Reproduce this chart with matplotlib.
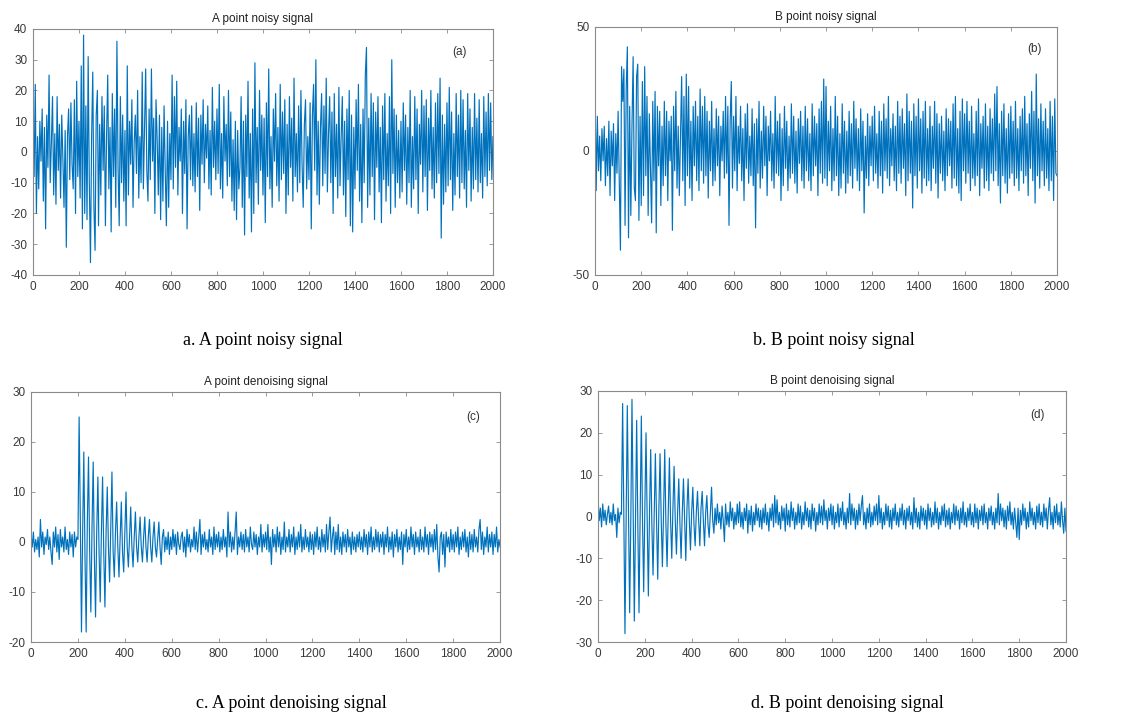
import numpy as np
import matplotlib
matplotlib.use("Agg")
import matplotlib.pyplot as plt

# sample step of the values below (every 5th sample of 0..2000)
step = 5

a_noisy = [
    15, -8, 22, -20, 5, -12, 10, -3, 14, -16, 8, -25, 12, -5, 25, -10, 3, 18, -14, 6,
    -17, 18, -6, 9, -15, 12, -2, -18, 7, -31, 5, 14, -9, 16, -4, -12, 17, -20, 23, -8,
    10, -15, 28, -25, 38, -20, 15, -22, 31, -10, -36, 5, 26, -18, -32, 12, 20, -24, 9, -14,
    18, -6, 15, -24, 5, 25, -12, 8, -26, 19, -8, 14, -18, 36, -5, -24, 18, -10, 12, -16,
    7, -24, 28, -14, 10, -4, 17, -18, 3, 12, -7, 20, -15, 5, -10, 26, -12, 8, 27, -6,
    -16, 14, -9, 27, -3, 11, -20, 17, 4, -14, 12, -22, 8, -16, 15, -6, -24, 10, -18, 6,
    -9, 25, -12, 18, -5, 23, -14, 8, -3, 14, -20, 10, -7, 17, -25, 5, 12, -9, 15, -11,
    6, -13, 16, -8, 11, -19, 12, -4, 17, -10, 9, -2, 15, -12, 7, -14, 21, -5, 10, -9,
    14, -7, 22, -12, 6, -15, 18, -3, 9, -11, 20, -8, 13, -16, 4, -19, 10, -22, 7, -12,
    -5, 18, -18, 10, -27, 12, -8, 23, -15, 6, -26, 14, -20, 29, -10, 8, -17, 20, -6, 12,
    -14, 11, -23, 16, -8, 27, -12, 5, -18, 14, -3, 19, -11, 8, -16, 22, -9, 13, -7, 17,
    -20, 9, -14, 18, -5, 11, -16, 24, -8, 6, -13, 15, -10, 20, -4, -18, 9, 17, -12, 5,
    -9, 16, -25, 12, 22, -6, 30, -14, 10, -17, 8, 19, -11, 15, -7, 24, -13, 6, 18, -10,
    13, -20, 19, -8, 9, -15, 21, -11, 5, 18, -14, 10, -21, 14, -9, 20, -24, 12, -26, 8,
    -12, 17, -6, 22, -16, 9, -23, 14, -10, 25, 34, -18, 11, -14, 19, -8, 16, -22, 13, -5,
    18, -13, 8, -23, 15, -9, 19, -16, 6, -11, 18, -20, 30, -7, 14, -18, 12, -10, 7, -15,
    10, -13, 16, -6, 12, -17, 8, -10, 20, -18, 5, -12, 18, -9, 14, -20, 9, -4, 20, -13,
    15, -8, 17, -19, 11, -6, 20, -12, 8, -15, 16, -10, 19, -7, 24, -28, 12, -17, 9, -13,
    16, -11, 21, -9, 13, -19, 6, -14, 19, -8, 12, -15, 20, -10, 17, -12, 7, -18, 19, -6,
    14, -16, 8, -12, 19, -9, 11, -13, 17, -10, 6, -15, 18, -8, 13, -11, 19, -6, 16, -9,
    5,
]

b_noisy = [
    24, -16, 14, -8, 6, -12, 9, -4, 10, -14, 5, -10, 12, -18, 8, -6, 11, -20, 7, -9,
    16, -12, -40, 34, 20, 33, -30, 25, 42, -35, 18, -26, 10, 38, -15, -20, 30, 35, -28, 14,
    -22, 28, -18, 34, -10, 22, -26, 15, -8, -29, 20, -12, 24, -33, 18, -6, 16, -22, 10, -14,
    20, -10, 16, -20, 12, -4, 14, -32, 18, -8, 24, -15, 10, -18, 6, 30, -12, 22, -22, 31,
    -10, 26, -15, 12, -20, 18, -6, 20, -12, 14, -16, 25, -8, 18, -13, 22, -10, 16, -19, 12,
    -8, 20, -14, 9, -12, 17, -6, 14, -18, 10, -4, 16, -11, 22, -9, 18, -30, 12, 28, -15,
    14, -8, 22, -16, 10, -5, 18, -12, 9, -20, 15, -7, 19, -13, 6, -10, 17, -14, 11, -31,
    13, -9, 20, -15, 8, -11, 18, -6, 14, -18, 10, -4, 16, -12, 7, -15, 22, -9, 12, -10,
    15, -20, 9, -14, 18, -7, 12, -16, 6, -11, 19, -9, 14, -13, 8, -17, 13, -5, 16, -12,
    10, -15, 18, -8, 13, -12, 7, -16, 19, -10, 14, -6, 11, -18, 17, -9, 20, -13, 29, -11,
    26, -14, 12, -8, 18, -16, 9, -12, 22, -10, 14, -18, 7, -15, 19, -9, 12, -17, 8, -13,
    16, -10, 11, -15, 20, -7, 13, -12, 9, -16, 17, -8, 12, -25, 6, -11, 15, -14, 10, -6,
    14, -12, 18, -9, 7, -15, 16, -10, 12, -17, 19, -8, 13, -11, 22, -14, 9, -6, 15, -12,
    10, -16, 20, -9, 14, -13, 17, -7, 11, -18, 23, -12, 16, -9, 12, -23, 19, -10, 14, -15,
    21, -8, 13, -17, 16, -11, 20, -14, 9, -12, 18, -16, 10, -7, 20, -13, 15, -19, 11, -9,
    14, -12, 8, -16, 17, -10, 13, -6, 12, -15, 19, -11, 22, -14, 9, -17, 16, -20, 21, -8,
    15, -13, 20, -9, 12, -16, 18, -11, 7, -14, 16, -10, 21, -18, 11, -7, 14, -15, 19, -12,
    10, -16, 17, -9, 13, -12, 23, -8, 26, -14, 11, -21, 16, -10, 19, -13, 9, -17, 15, -11,
    18, -9, 12, -14, 20, -11, 9, -16, 14, -8, 17, -13, 22, -10, 11, -18, 15, -7, 24, -12,
    16, -21, 31, -10, 13, -15, 19, -8, 12, -14, 17, -11, 9, -16, 20, -12, 14, -20, 21, -9,
    -10,
]

a_denoised = [
    1.5, -1, 2, -2, 0.5, -1.5, 1, -3, 4.5, -1, 2, -2.5, 1, -0.5, 2.5, -1.5, 1, -2, -4.5, 2,
    -1, 3, -2, 1.5, -3.5, 2.5, -1, 1, -2, 3, -1.5, 0.5, -2.5, 2, -1, 1.5, -3, 2, -1, 1,
    0.5, 25, 5, -18, 2, 18, -3, -18, 4, 17, -2, -14, 3, 16, -3, -15, 2, 13, -2, -12,
    2, 13, -2, -13, 2, 11, -1, -8, 3, 14, -2, -7, 2, 8, -1, -7, 1, 8, -2, -6,
    2, 10, -1, -5, 1, 7, -1, -5, 1, 6, -1, -4, 1, 5, -1, -4, 1, 5, -1, -4,
    1, 4.5, -1, -4, 1, 4, -1, -3, 0.5, 4, -1, -4.5, 1, 2.5, -2, 1, -1.5, 2, -2.5, 1,
    -1.5, 2.5, -1, 1.5, -2.5, 2, -0.5, -1.5, 1, 2, -2, 1, -3, 2.5, -1, 1.5, -2, 0.5, -1, 3,
    -1.5, 2, -2, 1, 4.5, -2.5, 1.5, -1, 2, -1.5, 0.5, -2, 2.5, -1, 1, -2.5, 3, -1.5, 1.5, -1,
    2, -2, 1, -1.5, 2.5, -1, 1, -3, 6, -1, 2, -2, 1, -1.5, 2, 6, -2.5, 1, -1, 2,
    -1.5, 1.5, -2, 2.5, -1, 1, -2, 3, -0.5, -1.5, 2, -1, 1.5, -2.5, 1, -1, 3.5, -2, 1.5, -1,
    2, -1.5, 3.5, -2, 1, -4.5, 2.5, -1, 1.5, -2, 3, -1, 2, -2.5, 1, -1.5, 4, -2, 1, -1,
    2.5, -2, 1.5, -1, 3, -2.5, 1, -1.5, 2, -1, 3.5, -2, 1, -1.5, 2.5, -1, 1, -2, 2, -1.5,
    1.5, -2.5, 2, -1, 3, -1.5, 1, -2, 2.5, -1, 1.5, -2, 3.5, -1.5, 2, 5, -2, 1, 3, -2.5,
    2, -1.5, 3.5, -2, 1, -2.5, 2, -1, 1.5, -2, 2.5, -1, 1, -2.5, 2, -1.5, 1, -2, 1.5, -1,
    2, -1.5, 1, -2, 2.5, -1, 1.5, -2.5, 2, -1, 3, -2, 1, -1.5, 2.5, -1, 2, -2, 1.5, -1,
    2, -2.5, 1.5, -1, 3, -2, 1, -1.5, 2, -3, 1.5, -1, 2.5, -2, 1, -1.5, 2, -4.5, 1.5, -1,
    2.5, -2, 1, -1.5, 3, -1, 1.5, -2.5, 2, -1, 1, -2, 2.5, -1.5, 1, -2, 3, -1, 1.5, -2.5,
    2, -1, 1.5, -2, 2.5, -1.5, 3.5, -3, -6, 1, 2, -2.5, 1.5, -5, 2, -1, 1, -2, 2.5, -1.5,
    1.5, -2, 2, -1, 3, -2.5, 1, -1.5, 2, -1, 2.5, -2, 1, -3, 2, -1.5, 1.5, -2, 2.5, -1,
    1, -2, 2.5, 4.5, -1.5, 2, -2.5, 1, -1, 3, -2, 1.5, -1, 2, -2.5, 1.5, -1, 3, -2, 0.5,
    -1,
]

b_denoised = [
    4.5, -1, 2, -2.5, 3, -1, 1.5, -2, 0.5, 2.5, -1.5, 1, -2, 3, -1, 0.5, -5, 2, -1.5, 1,
    0.5, 27, 1, -28, -1, 26.5, 2, -23, -1, 28, 1, -25, 0, 23, -2, -23, 1, 24, -1, -18,
    2, 20, -1, -19, 1, 16, -2, -14, 1, 15, -1, -15, 2, 15, -1, -12, 1, 16, -2, -12,
    1, 14, -1, -10, 2, 12, -1, -9, 1, 9, -2, -10, 1, 9, -1, -10.5, 2, 9, -1, -8,
    1, 7, -2, -7, 1, 6, -1, -7, 2, 6, -1, -7, 1, 5, -2, -5, 1, 7, -1, -4,
    2, -2, 3, -1.5, 1, -3, 2.5, -1, -6, 3, -2, 1, -2.5, 3.5, -1, 2, -3, 1, -2, 3,
    -1.5, 3.5, -2.5, 1, -3, 2, -1, 3, -4, 1.5, -2, 2.5, -3.5, 1, -2, 3, -1, 2, -2.5, 1.5,
    -3, 2, -1.5, 3, -2, 1, -3.5, 2, -1, 3, -2.5, 5, -1.5, 4, -2, 1, -3, 2.5, -1, 2,
    -3.5, 3, -2, 1.5, -2.5, 3.5, -1, 2, -3, 1, -2, 3, -1.5, 2.5, -3, 1, -2, 3.5, -1, 2,
    -2.5, 1.5, -3, 3, -1, 2, -3.5, 1, -2, 3, -1.5, 2.5, -2, 4, -1, 1.5, -3, 2, -1, 3,
    -2, 2.5, -3, 1, -1.5, 3, -2.5, 2, -1, 3.5, -2, 1, -3, 2, -1.5, 5.5, -2, 3, -1, 2,
    -3, 1.5, -2, 3, -1, 2.5, 5, -2, 1, -3, 2, -1.5, 3, -2.5, 1, -2, 2.5, -1, 3, -2,
    5, -1.5, 2, -3, 1, -2, 3, -1, 2.5, -2.5, 1.5, -3, 2, -1, 3, -2, 1, -2.5, 2, -1,
    3, -2, 1.5, -3, 2, -1, 2.5, -2, 1, -3, 4.5, -1.5, 2, -2.5, 1, -3, 2.5, -1, 2, -2,
    1.5, -3, 3, -1, 2, -2.5, 1, -2, 3.5, -1.5, 2, -3, 1, -2, 2.5, -1, 3, -2.5, 1.5, -2,
    2, -3, 1, -1.5, 3, -2, 2.5, -1, 1.5, -3, 2, -1.5, 3.5, -2, 1, -2.5, 2, -1, 3, -2,
    1, -2.5, 3, -1.5, 2, -3, 1.5, -1, 2.5, -2, 3, -1.5, 1, -3, 2, -1, 2.5, -2, 1, -3,
    2, -1.5, 5.5, -2, 3, -1, 2, -2.5, 1.5, -3, 2.5, -1, 3.5, -2, 1, -3, 2, -1.5, -5, 2,
    -5.5, 1.5, -2, 3, -1, 2, -3, 1, -2.5, 3.5, -1, 2, -2, 1, -3, 2.5, -1.5, 3, -2, 1,
    -2.5, 3, -1, 2, -3, 1.5, 4.5, -2, 1, -3, 2.5, -1.5, 3, -2, 1, -2.5, 3.5, -1, -4, 2,
    -3.5,
]

titles = ["A point noisy signal", "B point noisy signal",
          "A point denoising signal", "B point denoising signal"]
tags = ["(a)", "(b)", "(c)", "(d)"]
captions = ["a. A point noisy signal", "b. B point noisy signal",
            "c. A point denoising signal", "d. B point denoising signal"]
ylims = [(-40, 40), (-50, 50), (-20, 30), (-30, 30)]
yticks = [range(-40, 41, 10), [-50, 0, 50], range(-20, 31, 10), range(-30, 31, 10)]

plt.rcParams['font.family'] = ['Liberation Sans', 'DejaVu Sans']
plt.rcParams['axes.unicode_minus'] = False

fig = plt.figure(figsize=(11.25, 7.17), dpi=100)

# axes boxes [left, bottom, width, height] in figure fraction
boxes = [
    [0.0293, 0.6165, 0.4089, 0.3431],
    [0.5289, 0.6165, 0.4107, 0.3459],
    [0.0276, 0.1046, 0.4169, 0.3487],
    [0.5316, 0.1046, 0.4160, 0.3501],
]
tag_pos = [(0.928, 0.906), (0.952, 0.91), (0.942, 0.90), (0.94, 0.904)]
cap_pos = [(0.2338, 0.5258), (0.7413, 0.5258), (0.2587, 0.0195), (0.7529, 0.0195)]

signals = [a_noisy, b_noisy, a_denoised, b_denoised]
for i, sig in enumerate(signals):
    ax = fig.add_axes(boxes[i])
    x = np.arange(len(sig)) * step
    ax.plot(x, sig, color='#0072BD', lw=0.85)
    ax.set_xlim(0, 2000)
    ax.set_ylim(*ylims[i])
    ax.set_xticks(range(0, 2001, 200))
    ax.set_yticks(list(yticks[i]))
    ax.tick_params(direction='in', top=True, right=True, length=3, width=0.6,
                   colors='#8a8a8a', labelcolor='#3a3a3a', labelsize=8.5, pad=4)
    for s in ax.spines.values():
        s.set_color('#8a8a8a')
        s.set_linewidth(0.8)
    ax.set_title(titles[i], fontsize=8.5, color='#222222', pad=5)
    ax.text(tag_pos[i][0], tag_pos[i][1], tags[i], transform=ax.transAxes,
            fontsize=8.5, color='#333333', ha='center', va='center')
    fig.text(cap_pos[i][0], cap_pos[i][1], captions[i], ha='center', va='center',
             fontsize=13, family='Liberation Serif', color='black')

fig.savefig("out.png", dpi=100)
